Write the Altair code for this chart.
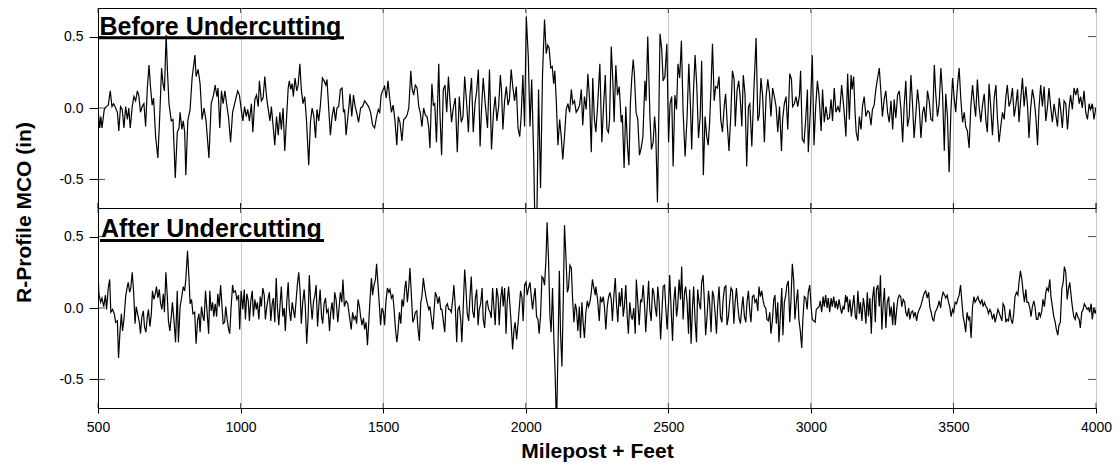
import altair as alt
import pandas as pd

# ---------------- data ----------------
X_TICKS = [500, 1000, 1500, 2000, 2500, 3000, 3500, 4000]
Y_TICKS = [-0.5, 0.0, 0.5]
PANEL_LABELS = ["Before Undercutting", "After Undercutting"]

TOP_1 = [(500,0.0),(506,-0.14),(510,-0.06),(514,-0.14),(522,-0.01),(529,0.01),(536,0.02),(543,0.12),(549,0.01),(555,0.03),(562,0.0),(568,-0.03),(573,-0.16),(579,0.01),(585,-0.01),(591,-0.14),(597,0.01),(603,-0.08),(608,0.0),(613,-0.14),(620,0.01),(626,0.08),(632,0.05),(638,0.12),(643,0.09),(649,-0.03),(655,0.01),(661,0.03),(667,-0.13),(673,0.14),(679,0.30),(684,0.15),(690,0.02),(695,0.07),(702,-0.20),(710,-0.35),(716,-0.08),(723,0.28),(728,0.17),(733,0.12),(739,0.51),(744,0.24),(749,0.03),(757,-0.09),(763,-0.08),(771,-0.49),(778,-0.17),(784,-0.14),(788,-0.03),(794,-0.15),(799,-0.09),(804,-0.17),(808,-0.47),(815,-0.09),(823,-0.01),(830,0.21),(840,0.37),(844,0.22),(851,0.27),(858,0.17),(865,-0.08),(872,0.0),(879,-0.09),(889,-0.35),(897,0.03),(905,0.09),(911,0.16),(917,0.08),(921,0.14),(927,-0.14),(933,0.12),(939,0.03),(945,0.12),(951,0.03),(958,-0.07),(965,-0.24),(972,-0.03),(978,0.02),(985,0.08),(990,0.12),(996,0.09),(1003,-0.02),(1008,-0.09),(1014,0.01),(1020,-0.06),(1025,-0.01),(1031,-0.09),(1038,0.03),(1043,-0.17),(1050,0.06),(1056,0.09),(1062,0.01),(1066,0.19),(1073,0.05),(1079,0.07),(1085,0.22),(1091,0.08),(1097,-0.01),(1103,-0.09),(1108,0.01),(1114,-0.12),(1120,-0.26),(1126,-0.06),(1132,-0.19),(1138,-0.03),(1143,-0.15),(1149,0.0),(1155,-0.30),(1161,-0.08),(1167,0.14),(1171,0.19),(1176,0.13),(1181,0.17),(1185,0.08),(1191,0.21),(1197,0.12),(1202,0.16),(1208,0.31),(1213,0.13),(1219,0.03),(1225,0.08),(1231,-0.08),(1239,-0.40),(1245,-0.10),(1251,0.0),(1257,-0.06),(1263,-0.21),(1268,-0.01),(1274,-0.09),(1280,0.02),(1287,0.21),(1293,0.19),(1299,0.16),(1303,0.20),(1309,0.0),(1315,-0.19),(1321,-0.06),(1327,0.01),(1333,-0.09),(1338,0.0),(1344,0.01),(1350,0.13),(1356,0.14),(1361,-0.03),(1365,-0.01)]

TOP_2 = [(1370,-0.19),(1379,-0.01),(1384,0.10),(1390,-0.06),(1396,0.09),(1402,0.01),(1407,-0.03),(1414,-0.10),(1421,0.0),(1428,0.01),(1435,0.05),(1442,0.03),(1449,0.01),(1456,-0.03),(1463,-0.12),(1470,-0.14),(1477,-0.06),(1483,-0.01),(1488,-0.03),(1493,0.09),(1498,0.12),(1505,0.15),(1511,0.07),(1517,0.19),(1523,0.07),(1529,-0.03),(1535,0.02),(1541,-0.08),(1548,-0.26),(1553,-0.06),(1559,-0.10),(1566,-0.23),(1572,-0.08),(1578,-0.07),(1584,-0.05),(1590,0.0),(1597,0.26),(1601,0.14),(1607,0.09),(1613,0.16),(1619,0.14),(1625,0.01),(1630,-0.03),(1636,-0.13),(1642,0.0),(1648,-0.05),(1654,-0.06),(1660,-0.14),(1664,-0.28),(1671,0.17),(1676,0.02),(1681,0.03),(1687,-0.24),(1695,0.31),(1699,-0.03),(1705,-0.33),(1711,0.13),(1717,0.16),(1723,-0.03),(1729,0.22),(1734,0.06),(1740,-0.10),(1746,0.0),(1753,0.07),(1760,-0.31),(1767,0.08),(1774,-0.10),(1780,-0.06),(1786,0.22),(1793,0.03),(1799,-0.17),(1804,0.08),(1810,0.21),(1816,-0.17),(1822,0.03),(1828,0.12),(1834,0.27),(1840,-0.27),(1845,-0.01),(1851,0.21),(1858,0.03),(1866,-0.14),(1873,0.27),(1880,-0.29),(1887,-0.03),(1893,0.08),(1899,-0.09),(1905,0.01),(1911,0.23),(1915,0.13),(1920,-0.15),(1926,0.05),(1932,0.15),(1938,0.02),(1943,0.06),(1949,0.27),(1955,0.14),(1961,0.05),(1967,0.15),(1973,-0.14),(1979,-0.20),(1984,-0.06),(1990,0.23),(1996,-0.13),(2002,0.64),(2009,0.36),(2015,-0.13),(2021,0.20),(2028,-0.34),(2033,-0.90),(2039,-0.80),(2045,0.13),(2052,-0.56),(2059,0.24),(2066,0.62),(2072,0.38),(2077,0.44),(2082,0.42),(2088,0.28),(2093,0.29),(2098,0.17),(2102,0.26),(2107,0.06),(2113,-0.26),(2119,-0.08),(2125,-0.21),(2130,-0.36),(2136,-0.20),(2142,-0.01),(2148,0.03),(2154,-0.03),(2160,0.13),(2165,0.03),(2171,0.05),(2177,-0.03),(2183,-0.01),(2189,0.02),(2195,0.13),(2200,-0.12),(2206,0.08),(2212,-0.01),(2218,0.24),(2224,0.06),(2230,-0.31),(2235,0.21),(2241,-0.08)]

TOP_3 = [(2246,-0.17),(2252,0.01),(2260,0.31),(2267,-0.24),(2273,0.01),(2279,0.23),(2285,-0.15),(2290,-0.17),(2294,-0.08),(2300,0.43),(2306,0.17),(2310,-0.10),(2316,0.30),(2322,0.09),(2328,0.15),(2335,-0.10),(2339,-0.05),(2345,-0.42),(2351,0.01),(2357,-0.27),(2362,-0.40),(2367,0.03),(2372,0.21),(2377,0.34),(2381,0.24),(2387,-0.03),(2393,-0.08),(2399,-0.33),(2405,-0.28),(2411,-0.20),(2418,0.19),(2422,0.05),(2428,0.50),(2436,-0.08),(2441,-0.29),(2447,-0.24),(2452,-0.06),(2456,-0.17),(2462,-0.66),(2467,-0.03),(2471,0.52),(2477,0.41),(2482,0.19),(2488,0.22),(2495,0.45),(2501,-0.24),(2506,0.03),(2512,0.08),(2517,-0.41),(2523,0.09),(2529,-0.01),(2534,0.31),(2540,0.21),(2546,0.47),(2552,-0.03),(2559,-0.34),(2566,-0.06),(2572,0.31),(2578,0.0),(2582,-0.29),(2588,0.10),(2594,0.37),(2600,0.15),(2606,-0.21),(2612,-0.06),(2617,0.33),(2623,-0.47),(2629,-0.06),(2635,-0.20),(2640,-0.26),(2645,-0.10),(2650,0.15),(2655,0.45),(2661,0.05),(2666,0.15),(2672,0.14),(2678,0.22),(2684,-0.08),(2690,-0.17),(2696,0.01),(2701,0.10),(2707,-0.12),(2713,-0.30),(2719,-0.06),(2725,0.26),(2731,0.20),(2735,-0.13),(2741,0.12),(2747,0.19),(2752,0.08),(2758,-0.13),(2763,0.23),(2769,0.10),(2775,-0.41),(2781,0.01),(2786,0.03),(2793,-0.27),(2800,0.12),(2808,0.49),(2814,-0.09),(2819,-0.05),(2825,0.21),(2831,0.08),(2837,-0.24),(2843,0.08),(2849,0.20),(2855,0.10),(2860,-0.06),(2866,0.14),(2872,0.08),(2878,0.01),(2884,-0.17),(2890,0.01),(2897,-0.30),(2901,-0.08),(2907,0.03),(2913,0.08),(2919,-0.15),(2926,0.24),(2932,0.20),(2936,0.01),(2942,0.03),(2948,0.08),(2954,0.01),(2960,0.09),(2964,0.26),(2970,-0.22),(2976,-0.24),(2982,-0.08),(2988,0.13),(2991,-0.31),(2998,-0.03),(3005,0.37),(3011,-0.26),(3017,0.01),(3023,0.19),(3029,0.08),(3036,-0.16),(3041,0.13),(3047,-0.10),(3053,0.01),(3059,-0.08),(3065,-0.07),(3071,0.06),(3076,-0.09),(3082,0.14),(3088,-0.03),(3095,0.01),(3101,-0.03),(3108,0.16),(3116,-0.01)]

TOP_4 = [(3123,-0.20),(3129,0.24),(3135,-0.08),(3141,0.23),(3145,0.13),(3150,0.22),(3155,-0.03),(3159,-0.17),(3165,-0.23),(3170,-0.06),(3176,-0.15),(3181,0.01),(3187,0.08),(3193,-0.06),(3199,-0.02),(3205,-0.03),(3211,-0.12),(3216,-0.01),(3222,0.02),(3228,0.13),(3234,0.21),(3240,0.28),(3246,0.10),(3251,-0.06),(3257,0.06),(3263,0.12),(3269,-0.03),(3275,-0.10),(3281,0.05),(3287,-0.15),(3292,0.06),(3298,-0.07),(3304,0.09),(3310,0.12),(3316,-0.01),(3322,-0.24),(3327,0.01),(3333,0.19),(3339,-0.13),(3345,-0.06),(3351,0.23),(3357,0.01),(3362,-0.21),(3368,-0.05),(3374,0.13),(3380,0.01),(3386,-0.21),(3392,-0.03),(3397,0.01),(3403,-0.10),(3409,0.12),(3415,0.05),(3421,-0.08),(3427,-0.09),(3433,0.30),(3438,0.10),(3444,-0.06),(3450,0.03),(3456,0.28),(3462,0.09),(3468,-0.30),(3473,0.10),(3479,-0.06),(3485,-0.45),(3491,-0.03),(3497,0.21),(3503,0.06),(3508,-0.03),(3514,0.15),(3520,0.28),(3526,0.06),(3532,-0.10),(3538,-0.03),(3543,-0.13),(3549,-0.16),(3555,-0.28),(3561,0.01),(3567,0.16),(3573,0.03),(3578,-0.06),(3584,0.20),(3590,0.01),(3596,-0.10),(3602,0.02),(3608,0.10),(3614,-0.09),(3619,-0.17),(3625,0.17),(3631,0.0),(3637,-0.19),(3643,0.07),(3649,0.16),(3654,-0.06),(3660,-0.24),(3666,-0.13),(3672,-0.03),(3678,-0.08),(3684,0.08),(3689,0.16),(3695,0.01),(3701,0.05),(3707,0.14),(3713,-0.06),(3719,0.02),(3725,0.13),(3730,-0.10),(3736,0.06),(3742,0.21),(3748,0.01),(3754,0.15),(3760,0.01),(3765,-0.21),(3771,0.0),(3777,0.13),(3783,0.06),(3789,-0.06),(3795,-0.26),(3800,0.0),(3806,0.16),(3812,0.01),(3818,0.15),(3824,-0.09),(3830,0.01),(3835,0.14),(3841,0.01),(3847,-0.10),(3853,0.03),(3859,-0.05),(3865,-0.13),(3871,0.07),(3876,-0.01),(3882,-0.14),(3888,0.05),(3894,0.03),(3900,-0.15),(3906,0.01),(3911,0.09),(3917,-0.01),(3923,0.14),(3929,0.09),(3935,0.14),(3941,0.03),(3946,0.08),(3952,0.0),(3958,0.12),(3964,-0.03),(3970,-0.08),(3976,0.03),(3981,-0.01),(3987,0.03),(3993,-0.08),(3999,0.0)]

BOT_1 = [(500,0.27),(503,0.10),(509,0.04),(514,0.07),(520,0.01),(526,0.09),(530,-0.01),(536,0.14),(541,0.20),(545,-0.03),(551,-0.01),(557,-0.04),(562,-0.10),(568,-0.09),(572,-0.35),(577,-0.17),(582,-0.04),(586,-0.16),(591,-0.08),(597,0.08),(601,0.13),(606,0.18),(611,0.11),(615,0.14),(620,0.25),(625,0.11),(630,-0.11),(634,0.01),(639,-0.04),(645,-0.10),(649,-0.18),(654,-0.06),(659,-0.02),(663,-0.13),(668,-0.17),(673,-0.06),(677,-0.01),(682,-0.13),(687,-0.04),(691,0.12),(696,0.06),(701,0.10),(705,0.15),(710,0.07),(715,0.13),(719,0.04),(724,-0.01),(729,0.10),(733,-0.03),(738,0.25),(743,0.08),(747,-0.09),(752,-0.16),(757,-0.06),(761,0.04),(767,-0.10),(772,-0.24),(778,0.12),(782,-0.24),(788,0.01),(793,0.07),(799,0.15),(804,0.12),(808,0.20),(814,0.40),(819,0.21),(823,0.03),(828,0.06),(833,-0.04),(839,-0.03),(844,-0.25),(849,-0.09),(854,-0.04),(858,-0.17),(863,0.01),(868,-0.06),(872,-0.09),(877,0.12),(883,-0.04),(888,-0.18),(892,0.12),(897,-0.02),(902,0.04),(906,-0.06),(911,0.03),(916,-0.06),(920,0.10),(925,0.01),(930,0.16),(934,0.04),(939,-0.11),(944,-0.10),(948,0.01),(953,-0.08),(958,-0.15),(962,-0.18),(967,0.01),(972,0.16),(976,0.11),(982,0.12),(987,0.06),(993,0.09),(997,-0.15),(1002,0.12),(1008,-0.01),(1013,0.13),(1017,-0.08),(1022,0.10),(1027,0.05),(1031,-0.09),(1036,0.05),(1041,0.12),(1045,-0.06),(1050,0.06),(1055,-0.01),(1059,0.04),(1064,-0.08),(1069,0.08),(1073,0.01),(1078,0.14),(1083,0.09),(1087,-0.08),(1092,0.01),(1097,0.07),(1101,0.11),(1106,-0.09),(1111,0.03),(1115,0.07),(1120,-0.10),(1125,0.21),(1129,0.01),(1134,-0.12),(1139,0.04),(1143,0.15),(1148,-0.06),(1153,0.0),(1157,-0.16),(1162,0.04),(1167,0.18),(1171,-0.01),(1176,-0.09),(1181,0.04),(1185,-0.01),(1190,-0.07),(1195,0.06),(1199,0.16),(1204,0.25),(1209,0.11),(1213,-0.11),(1218,0.04),(1223,0.13),(1227,0.01),(1232,-0.25),(1237,-0.06),(1241,0.23),(1246,0.04),(1251,-0.08),(1256,0.05),(1260,0.08),(1265,0.16),(1270,-0.13),(1274,0.0),(1279,0.13),(1284,-0.06),(1288,-0.11),(1293,0.03),(1298,0.07),(1302,-0.03),(1307,-0.01),(1312,-0.16),(1316,-0.03),(1321,0.04),(1326,-0.08),(1330,0.11),(1335,0.06),(1341,-0.10),(1345,-0.01),(1350,0.11),(1355,0.04),(1359,0.20),(1364,0.01)]

BOT_2 = [(1370,0.05),(1376,0.03),(1382,-0.06),(1388,-0.15),(1393,-0.03),(1398,-0.08),(1403,-0.06),(1407,-0.11),(1412,0.06),(1417,0.01),(1421,-0.06),(1426,-0.12),(1431,-0.07),(1435,-0.15),(1440,-0.10),(1445,-0.26),(1449,-0.12),(1454,0.06),(1459,0.21),(1463,0.09),(1468,0.16),(1473,0.20),(1477,0.31),(1482,0.16),(1487,0.01),(1491,-0.12),(1496,0.0),(1501,-0.03),(1505,-0.12),(1510,0.05),(1515,0.14),(1520,0.11),(1524,0.13),(1529,0.07),(1534,0.09),(1538,0.0),(1543,-0.14),(1548,-0.24),(1552,-0.17),(1557,-0.03),(1562,-0.11),(1566,0.06),(1571,0.01),(1576,0.14),(1580,0.19),(1585,0.04),(1590,0.15),(1594,0.28),(1599,0.09),(1604,-0.10),(1608,-0.08),(1613,-0.03),(1618,-0.02),(1622,-0.14),(1627,-0.23),(1632,0.04),(1636,0.08),(1641,0.21),(1646,0.13),(1650,0.08),(1655,0.03),(1660,-0.01),(1664,0.01),(1669,-0.07),(1674,-0.15),(1678,-0.04),(1683,0.11),(1688,0.08),(1692,0.03),(1697,0.08),(1702,-0.01),(1706,-0.01),(1711,-0.09),(1716,-0.17),(1720,0.01),(1725,0.03),(1730,-0.01),(1734,-0.01),(1739,-0.03),(1744,0.06),(1748,0.16),(1753,0.01),(1758,-0.24),(1762,-0.01),(1767,0.01),(1772,-0.08),(1776,-0.24),(1781,0.01),(1786,0.27),(1790,0.15),(1795,-0.04),(1800,-0.09),(1804,0.06),(1809,0.22),(1814,-0.02),(1819,-0.07),(1823,0.06),(1828,0.13),(1833,-0.12),(1837,-0.01),(1842,0.03),(1847,0.14),(1851,-0.08),(1856,-0.14),(1861,0.04),(1865,0.05),(1870,-0.01),(1875,-0.03),(1879,-0.07),(1884,0.14),(1889,-0.01),(1893,-0.12),(1898,0.14),(1903,0.08),(1907,-0.12),(1912,0.06),(1917,0.15),(1921,0.01),(1926,0.14),(1931,-0.18),(1935,0.04),(1940,0.15),(1945,0.01),(1949,-0.11),(1954,-0.29),(1959,-0.15),(1963,-0.10),(1968,-0.22),(1973,-0.11),(1977,-0.01),(1982,0.12),(1987,0.07),(1991,-0.09),(1996,0.16),(2001,0.18),(2005,0.09),(2010,0.14),(2015,0.18),(2019,0.09),(2024,-0.01),(2029,0.08),(2033,0.14),(2038,-0.06),(2043,-0.08),(2047,-0.18),(2052,-0.06),(2057,0.22),(2061,0.21),(2066,0.16),(2071,0.34),(2075,0.60),(2080,0.34),(2085,-0.06),(2089,-0.17),(2094,0.14),(2099,-0.23),(2103,-0.45),(2108,-0.85),(2113,-0.31),(2118,0.26),(2122,-0.17),(2127,-0.41),(2132,0.08),(2136,0.58),(2141,0.36),(2146,0.11),(2150,0.14),(2155,0.30),(2160,0.28),(2164,0.08),(2169,-0.10),(2174,0.03),(2178,-0.01),(2183,-0.16),(2188,0.01),(2192,-0.21),(2197,0.04),(2202,-0.12),(2206,-0.21),(2211,-0.03),(2216,0.05),(2220,0.01),(2225,0.04),(2230,0.11),(2234,0.20),(2239,0.14),(2244,0.09)]

BOT_3 = [(2246,0.15),(2252,0.06),(2258,-0.09),(2262,0.08),(2267,0.04),(2272,0.08),(2276,0.01),(2281,-0.15),(2286,0.01),(2290,0.07),(2295,0.11),(2300,0.06),(2304,-0.09),(2309,0.08),(2314,0.21),(2318,0.04),(2323,-0.10),(2328,0.11),(2332,0.01),(2337,0.14),(2342,-0.06),(2346,0.01),(2351,0.16),(2356,-0.06),(2360,-0.18),(2365,0.04),(2370,-0.06),(2374,-0.08),(2379,0.0),(2384,-0.18),(2388,0.20),(2393,0.04),(2398,-0.12),(2403,0.06),(2407,0.04),(2412,0.16),(2417,0.01),(2421,-0.17),(2426,0.01),(2431,0.19),(2435,-0.01),(2440,-0.09),(2445,0.14),(2449,0.11),(2454,0.01),(2459,-0.06),(2463,0.15),(2468,0.04),(2473,-0.22),(2477,-0.06),(2482,0.15),(2487,0.16),(2491,0.01),(2496,-0.15),(2501,0.04),(2505,0.23),(2510,-0.01),(2515,-0.23),(2519,0.04),(2524,0.15),(2529,-0.06),(2533,0.01),(2538,0.20),(2543,0.06),(2547,0.29),(2552,-0.08),(2557,0.11),(2561,0.15),(2566,0.04),(2571,-0.18),(2575,0.13),(2580,-0.25),(2585,0.01),(2589,0.15),(2594,-0.09),(2599,-0.24),(2603,0.13),(2608,0.04),(2613,-0.01),(2617,0.18),(2622,0.23),(2627,0.03),(2631,-0.19),(2636,-0.06),(2641,0.12),(2645,0.04),(2650,-0.17),(2655,0.12),(2659,0.09),(2664,-0.03),(2669,-0.18),(2673,0.01),(2678,0.15),(2683,-0.06),(2688,-0.10),(2692,0.05),(2697,0.14),(2702,0.16),(2706,-0.12),(2711,-0.06),(2716,0.06),(2720,0.14),(2725,0.12),(2730,-0.11),(2734,0.03),(2739,0.14),(2744,0.01),(2748,-0.07),(2753,-0.11),(2758,0.01),(2762,0.08),(2767,-0.06),(2772,-0.10),(2776,0.04),(2781,0.12),(2786,-0.03),(2790,-0.10),(2795,0.08),(2800,0.09),(2804,0.04),(2809,0.06),(2814,-0.02),(2818,0.15),(2823,0.08),(2828,0.12),(2832,0.06),(2837,0.01),(2842,0.0),(2846,-0.08),(2851,-0.09),(2856,-0.03),(2860,-0.18),(2865,-0.09),(2870,0.06),(2874,0.09),(2879,-0.11),(2884,0.04),(2888,-0.24),(2893,-0.06),(2898,0.14),(2902,-0.19),(2907,0.04),(2912,0.09),(2916,0.16),(2921,0.19),(2926,-0.10),(2930,0.04),(2935,0.31),(2940,0.19),(2944,-0.08),(2949,0.04),(2954,0.13),(2958,-0.08),(2963,-0.16),(2968,-0.28),(2972,-0.08),(2977,0.08),(2982,0.07),(2987,-0.01),(2991,0.11),(2996,0.16),(3001,0.01),(3005,-0.08),(3010,-0.09),(3015,-0.10),(3019,-0.01),(3024,0.0),(3029,0.01),(3033,0.05),(3038,-0.03),(3043,0.08),(3047,0.01),(3052,0.09),(3057,0.0),(3061,0.07),(3066,-0.03),(3071,0.07),(3075,0.01),(3080,0.08),(3085,0.0),(3089,0.05),(3094,-0.01),(3099,0.06),(3103,0.01),(3108,-0.04),(3113,0.01),(3117,-0.01),(3122,0.09)]

BOT_4 = [(3123,0.04),(3128,0.08),(3132,-0.03),(3137,0.06),(3142,-0.06),(3146,0.01),(3151,0.09),(3156,-0.06),(3160,-0.08),(3165,0.12),(3170,-0.04),(3174,0.04),(3179,-0.09),(3184,0.07),(3188,0.01),(3193,-0.11),(3198,0.11),(3202,-0.06),(3207,0.07),(3212,-0.18),(3216,0.06),(3221,0.15),(3226,-0.10),(3230,0.13),(3235,0.16),(3240,0.01),(3244,0.23),(3249,-0.15),(3254,0.04),(3258,0.14),(3263,-0.14),(3268,0.04),(3273,0.08),(3277,-0.06),(3282,0.01),(3287,-0.12),(3291,0.04),(3296,-0.12),(3301,-0.01),(3305,0.06),(3310,0.09),(3315,0.08),(3319,0.01),(3324,0.06),(3329,0.04),(3333,-0.03),(3338,-0.06),(3343,0.0),(3347,-0.08),(3352,-0.03),(3357,-0.02),(3361,-0.06),(3366,-0.03),(3371,-0.09),(3375,-0.04),(3380,-0.01),(3385,0.01),(3389,0.04),(3394,0.08),(3399,0.11),(3403,0.12),(3408,0.07),(3413,0.11),(3417,0.01),(3422,-0.03),(3427,-0.08),(3431,-0.09),(3436,-0.03),(3441,-0.01),(3445,0.01),(3450,0.05),(3455,0.0),(3459,0.07),(3464,0.11),(3469,0.09),(3473,0.07),(3478,0.09),(3483,0.04),(3487,0.01),(3492,-0.06),(3497,-0.01),(3501,-0.03),(3506,0.04),(3511,0.03),(3515,0.06),(3520,0.09),(3525,0.16),(3529,0.06),(3534,-0.06),(3539,-0.11),(3543,-0.17),(3548,-0.03),(3553,-0.08),(3557,-0.06),(3562,-0.21),(3567,0.01),(3572,0.08),(3576,0.04),(3581,0.06),(3586,0.08),(3590,0.05),(3595,0.03),(3600,0.06),(3604,0.01),(3609,0.04),(3614,0.01),(3618,0.0),(3623,-0.04),(3628,-0.01),(3632,-0.03),(3637,-0.08),(3642,-0.04),(3646,-0.10),(3651,-0.06),(3656,-0.01),(3660,-0.03),(3665,-0.06),(3670,-0.09),(3674,0.03),(3679,0.01),(3684,-0.10),(3688,-0.08),(3693,-0.09),(3698,-0.01),(3702,-0.08),(3707,-0.11),(3712,-0.03),(3716,0.08),(3721,0.11),(3726,0.09),(3730,0.18),(3735,0.26),(3740,0.20),(3744,0.12),(3749,0.04),(3754,0.13),(3758,0.04),(3763,0.04),(3768,0.0),(3772,-0.06),(3777,0.01),(3782,0.05),(3786,0.01),(3791,-0.08),(3796,-0.08),(3800,-0.03),(3805,-0.06),(3810,-0.02),(3814,0.06),(3819,0.01),(3824,0.11),(3828,0.14),(3833,0.12),(3838,0.20),(3842,0.08),(3847,0.01),(3852,-0.06),(3856,-0.09),(3861,-0.15),(3866,-0.19),(3870,-0.12),(3875,-0.10),(3880,0.13),(3885,0.18),(3889,0.29),(3894,0.25),(3899,0.06),(3903,0.13),(3908,0.18),(3913,0.08),(3917,0.01),(3922,-0.06),(3927,-0.08),(3931,-0.03),(3936,-0.06),(3941,-0.08),(3945,-0.14),(3950,-0.03),(3955,-0.01),(3959,0.03),(3964,0.01),(3969,-0.01),(3973,0.0),(3978,-0.03),(3983,0.03),(3987,-0.08),(3992,0.0),(3997,-0.04),(4000,-0.01)]

# ---------------- chart ----------------
FONT = "Liberation Sans"
X_DOMAIN = [500, 4000]
Y_DOMAIN = [-0.7, 0.7]
W, H = 998, 200

xs = alt.Scale(domain=X_DOMAIN, nice=False, zero=False)
ys = alt.Scale(domain=Y_DOMAIN, nice=False, zero=False)
MINUS_FIX = "replace(format(datum.value, '.1f'), '\u2212', '-')"


def panel(series, label, underline_end, text_x, text_y, line_y, bottom):
    df = pd.DataFrame(series, columns=["ft", "mco"])
    if bottom:
        x_axis = alt.Axis(values=X_TICKS, format="d", grid=True, gridColor="#c8c8c8", gridWidth=1,
                          tickSize=5, tickColor="black", labelFontSize=14, labelFont=FONT,
                          labelColor="black", labelPadding=7, labelFlush=False,
                          title="Milepost + Feet", titleFont=FONT, titleFontSize=21,
                          titleFontWeight="bold", titleColor="black", titlePadding=6,
                          domainColor="black")
        y_axis = alt.Axis(values=Y_TICKS, grid=False, tickSize=9, tickColor="black",
                          labelFontSize=14, labelFont=FONT, labelColor="black",
                          labelPadding=6, labelExpr=MINUS_FIX, title=None,
                          domainColor="black")
    else:
        x_axis = alt.Axis(values=X_TICKS, grid=True, gridColor="#c8c8c8", gridWidth=1,
                          labels=False, ticks=False, title=None, domainColor="black")
        y_axis = alt.Axis(values=Y_TICKS, grid=False, tickSize=9, tickColor="black",
                          labelFontSize=14, labelFont=FONT, labelColor="black",
                          labelPadding=6, labelExpr=MINUS_FIX,
                          title="R-Profile MCO (in)", titleFont=FONT, titleFontSize=21,
                          titleFontWeight="bold", titleColor="black", titleAngle=-90,
                          titleX=-74, titleY=204, titleAlign="center",
                          titleBaseline="middle", domainColor="black")

    line = alt.Chart(df).mark_line(color="black", strokeWidth=1.2, clip=True).encode(
        x=alt.X("ft:Q", scale=xs, axis=x_axis),
        y=alt.Y("mco:Q", scale=ys, axis=y_axis),
    )

    left_ticks = alt.Chart(pd.DataFrame({"ft": [X_DOMAIN[0]] * 3, "mco": Y_TICKS})).mark_tick(
        orient="horizontal", size=7, thickness=1, color="black", xOffset=3.5
    ).encode(x=alt.X("ft:Q", scale=xs), y=alt.Y("mco:Q", scale=ys))
    right_ticks = alt.Chart(pd.DataFrame({"ft": [X_DOMAIN[1]] * 3, "mco": Y_TICKS})).mark_tick(
        orient="horizontal", size=8, thickness=1, color="black", xOffset=-4
    ).encode(x=alt.X("ft:Q", scale=xs), y=alt.Y("mco:Q", scale=ys))
    bottom_ticks = alt.Chart(pd.DataFrame({"ft": X_TICKS, "mco": [Y_DOMAIN[0]] * len(X_TICKS)})).mark_tick(
        orient="vertical", size=5, thickness=1, color="black", yOffset=-2.5
    ).encode(x=alt.X("ft:Q", scale=xs), y=alt.Y("mco:Q", scale=ys))
    top_ticks = alt.Chart(pd.DataFrame({"ft": X_TICKS, "mco": [Y_DOMAIN[1]] * len(X_TICKS)})).mark_tick(
        orient="vertical", size=10 if bottom else 5, thickness=1, color="black",
        yOffset=0 if bottom else 2.5
    ).encode(x=alt.X("ft:Q", scale=xs), y=alt.Y("mco:Q", scale=ys))

    lab_df = pd.DataFrame({"label": [label]})
    text = alt.Chart(lab_df).mark_text(
        font=FONT, fontSize=25, fontWeight="bold", color="black",
        align="left", baseline="alphabetic"
    ).encode(x=alt.value(text_x), y=alt.value(text_y), text="label:N")
    underline = alt.Chart(lab_df).mark_rule(color="black", strokeWidth=3).encode(
        x=alt.value(text_x - 1), x2=alt.value(underline_end), y=alt.value(line_y)
    )

    return alt.layer(line, left_ticks, right_ticks, bottom_ticks, top_ticks, underline, text).properties(
        width=W, height=H
    )


top = panel(TOP_1 + TOP_2 + TOP_3 + TOP_4, PANEL_LABELS[0], 246, 1.5, 26.5, 29.8, bottom=False)
bot = panel(BOT_1 + BOT_2 + BOT_3 + BOT_4, PANEL_LABELS[1], 226, 3, 29, 32.5, bottom=True)

chart = alt.vconcat(top, bot, spacing=0, bounds="flush").properties(
    padding={"left": 12, "top": 7, "right": 0, "bottom": 0}
).configure_view(stroke="black", strokeWidth=1).configure_axis(domainWidth=1)

chart.save("out.html", embed_options={"renderer": "svg", "actions": False})
